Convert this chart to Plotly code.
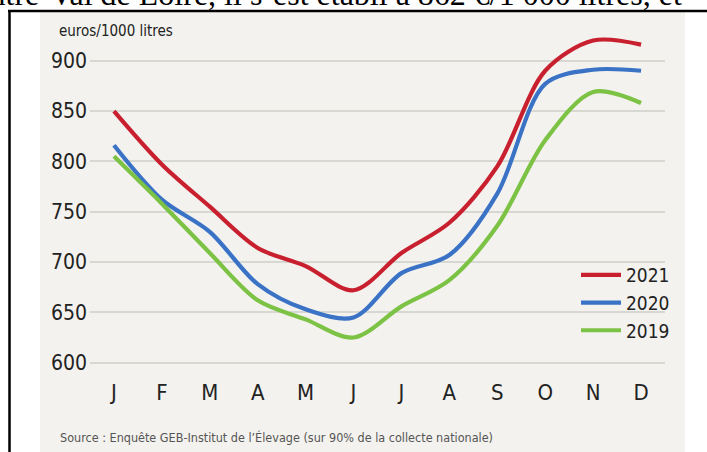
import plotly.graph_objects as go

months = ["J", "F", "M", "A", "M", "J", "J", "A", "S", "O", "N", "D"]
years = ["2021", "2020", "2019"]
prix_2021 = [850, 797, 755, 714, 696, 672, 709, 739, 795, 890, 920, 916]
prix_2020 = [816, 762, 730, 678, 653, 645, 689, 707, 768, 877, 891, 890]
prix_2019 = [805, 758, 709, 662, 643, 625, 656, 682, 736, 821, 869, 858]
colors = ["#c8202f", "#3a72c6", "#7cc244"]
y_ticks = [600, 650, 700, 750, 800, 850, 900]

W, H = 707, 452
L, R, T, B = 90, 42, 20, 80
PW, PH = W - L - R, H - T - B

def px(x):
    return (x - L) / PW

def py(y):
    return (H - B - y) / PH

# y pixel of 900 and 600 gridlines
y900, y600 = 60.7, 362.7
per = (y600 - y900) / 300.0
ytop = 900 + (y900 - T) / per
ybot = 600 - ((H - B) - y600) / per

fig = go.Figure()
xs = list(range(len(months)))
for name, vals, col in zip(years, [prix_2021, prix_2020, prix_2019], colors):
    fig.add_trace(go.Scatter(
        x=xs, y=vals, name=name, mode="lines",
        line=dict(color=col, width=4.2, shape="spline", smoothing=0.9),
        hoverinfo="skip",
    ))

narrow = "DejaVu Sans Condensed, Liberation Sans Narrow, Arial Narrow, sans-serif"

fig.update_layout(
    width=W, height=H,
    margin=dict(l=L, r=R, t=T, b=B),
    paper_bgcolor="white",
    plot_bgcolor="rgba(0,0,0,0)",
    showlegend=True,
    legend=dict(
        x=px(576), y=py(256), xanchor="left", yanchor="top",
        bgcolor="rgba(0,0,0,0)",
        font=dict(family=narrow, size=19, color="#222"),
        tracegroupgap=0, itemwidth=40,
    ),
    xaxis=dict(
        range=[-0.5, 11.5], tickmode="array", tickvals=xs, ticktext=months,
        showgrid=False, zeroline=False, showline=False, ticks="",
        tickfont=dict(family=narrow, size=22, color="#222"),
        ticklabelstandoff=5, fixedrange=True,
    ),
    yaxis=dict(
        range=[ybot, ytop], tickmode="array", tickvals=y_ticks,
        ticktext=[str(v) for v in y_ticks],
        showgrid=True, gridcolor="#d8d8d2", gridwidth=1.5,
        zeroline=False, showline=False, ticks="",
        tickfont=dict(family=narrow, size=21, color="#222"),
        ticklabelstandoff=2, fixedrange=True,
    ),
    shapes=[
        dict(type="rect", xref="paper", yref="paper", layer="below",
             x0=px(40), x1=px(685), y0=py(12), y1=py(460),
             fillcolor="#f3f2ee", line=dict(width=0)),
        dict(type="line", xref="paper", yref="paper",
             x0=px(8), x1=px(712), y0=py(11), y1=py(11),
             line=dict(color="black", width=2.5)),
        dict(type="line", xref="paper", yref="paper",
             x0=px(9.5), x1=px(9.5), y0=py(10), y1=py(460),
             line=dict(color="black", width=2.5)),
    ],
    annotations=[
        dict(text="euros/1000 litres", xref="paper", yref="paper",
             x=px(57), y=py(31), xanchor="left", yanchor="middle",
             showarrow=False, font=dict(family=narrow, size=15, color="#222")),
        dict(text="Source : Enquête GEB-Institut de l’Élevage (sur 90% de la collecte nationale)",
             xref="paper", yref="paper",
             x=px(58), y=py(437), xanchor="left", yanchor="middle",
             showarrow=False, font=dict(family=narrow, size=12.5, color="#555")),
        dict(text="Centre-Val de Loire, il s’est établi à 862 €/1 000 litres, et",
             xref="paper", yref="paper",
             x=px(684), y=py(-6), xanchor="right", yanchor="middle",
             showarrow=False,
             font=dict(family="Liberation Serif, Times New Roman, serif", size=32, color="black")),
    ],
)

fig.write_html("out.html", post_script="document.body.style.margin='0';",
               config={"displayModeBar": False})
